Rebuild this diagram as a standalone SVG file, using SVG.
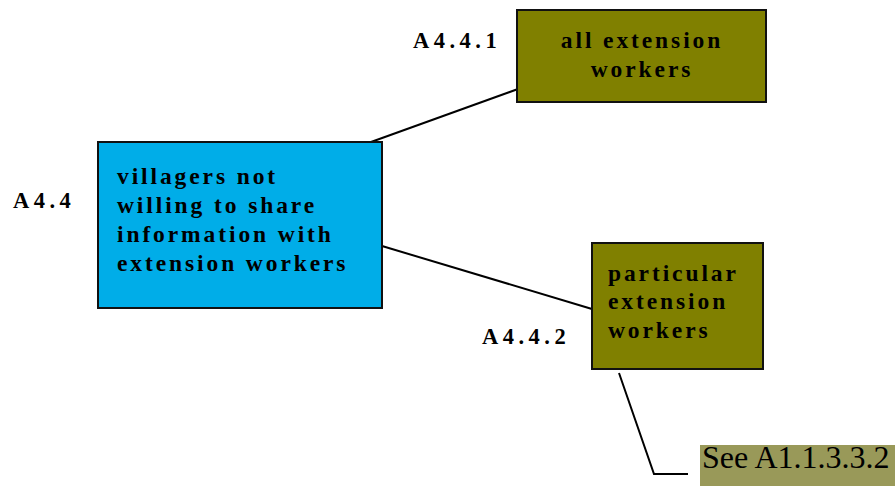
<svg xmlns="http://www.w3.org/2000/svg" width="895" height="486" viewBox="0 0 895 486">
  <style>
    .box { stroke: #111; stroke-width: 2; }
    .olive { fill: #808000; }
    .blue { fill: #00ade8; }
    .t { font-family: "Liberation Serif", "Times New Roman", serif; font-weight: bold; font-size: 23.5px; letter-spacing: 2.9px; fill: #000; }
    .lbl { font-family: "Liberation Serif", "Times New Roman", serif; font-weight: bold; font-size: 22.5px; letter-spacing: 4.5px; fill: #000; }
    .link { stroke: #000; stroke-width: 2; fill: none; }
  </style>
  <rect width="895" height="486" fill="#fff"/>

  <g id="connectors">
    <line class="link" x1="371" y1="142" x2="518" y2="89"/>
    <line class="link" x1="382" y1="246" x2="592" y2="309"/>
    <polyline class="link" points="619,373 654,474 688,474"/>
  </g>

  <g id="a4-4">
    <text class="lbl" x="13" y="208">A4.4</text>
    <rect class="box blue" x="98" y="142" width="284" height="166"/>
    <text class="t" x="117" y="184">villagers not</text>
    <text class="t" x="117" y="213">willing to share</text>
    <text class="t" x="117" y="242">information with</text>
    <text class="t" x="117" y="271">extension workers</text>
  </g>

  <g id="a4-4-1">
    <text class="lbl" x="413" y="48">A4.4.1</text>
    <rect class="box olive" x="517" y="10" width="249" height="92"/>
    <text class="t" x="642" y="48" text-anchor="middle" letter-spacing="3.3">all extension</text>
    <text class="t" x="642" y="77" text-anchor="middle" letter-spacing="3.3">workers</text>
  </g>

  <g id="a4-4-2">
    <text class="lbl" x="482" y="344">A4.4.2</text>
    <rect class="box olive" x="592" y="243" width="171" height="126"/>
    <text class="t" x="608" y="281" letter-spacing="2.4">particular</text>
    <text class="t" x="608" y="309" letter-spacing="2.4">extension</text>
    <text class="t" x="608" y="338" letter-spacing="2.4">workers</text>
  </g>

  <g id="see-ref">
    <rect x="700" y="445" width="195" height="41" fill="#999959"/>
    <text x="702" y="468" font-family="Liberation Serif, Times New Roman, serif" font-size="32" fill="#000">See A1.1.3.3.2</text>
  </g>
</svg>
